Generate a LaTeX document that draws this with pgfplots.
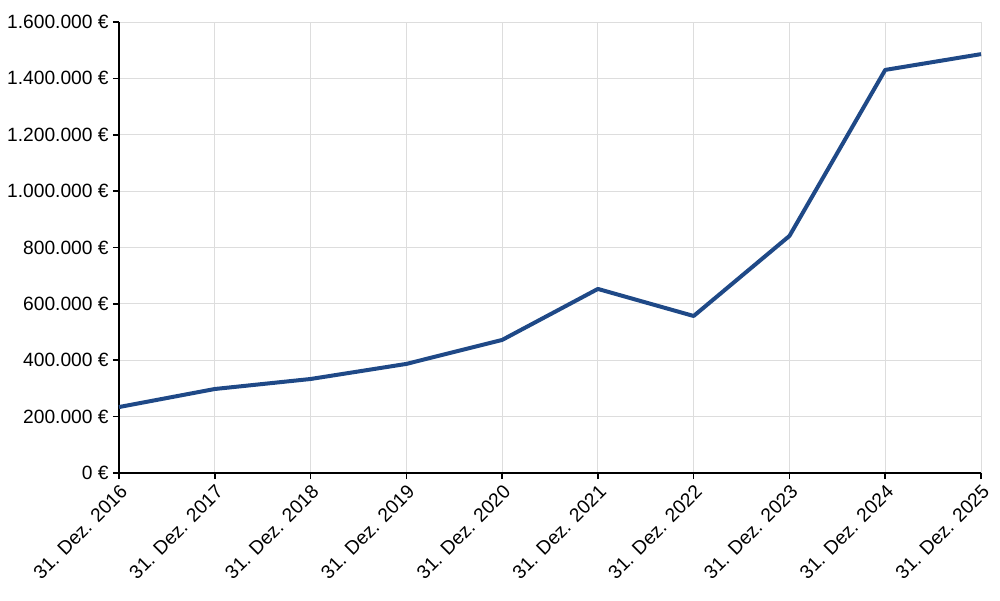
\documentclass[border=0pt]{standalone}
\usepackage{pgfplots}
\pgfplotsset{compat=1.18}
\usepackage{fontspec}
\setmainfont{Liberation Sans}
\definecolor{lineblue}{RGB}{31,73,135}
\definecolor{gridgray}{RGB}{221,221,221}
\begin{document}
\begin{tikzpicture}
\begin{axis}[
  scale only axis,
  width=431pt, height=225.5pt,
  xmin=0, xmax=9, ymin=0, ymax=1600000,
  scaled ticks=false,
  axis x line*=bottom, axis y line*=left,
  axis line style={line width=0.8pt, black, -},
  xtick={0,...,9},
  xticklabels={31. Dez. 2016,31. Dez. 2017,31. Dez. 2018,31. Dez. 2019,31. Dez. 2020,31. Dez. 2021,31. Dez. 2022,31. Dez. 2023,31. Dez. 2024,31. Dez. 2025},
  ytick={0,200000,400000,600000,800000,1000000,1200000,1400000,1600000},
  yticklabels={0 €,200.000 €,400.000 €,600.000 €,800.000 €,1.000.000 €,1.200.000 €,1.400.000 €,1.600.000 €},
  x tick label style={rotate=45, anchor=north east, font=\fontsize{9.6}{10}\selectfont, inner sep=1.5pt},
  y tick label style={font=\fontsize{9.6}{10}\selectfont, inner sep=2pt},
  tick align=outside,
  major tick length=3pt,
  tick style={line width=0.8pt, black},
  grid=major,
  major grid style={gridgray, line width=0.4pt},
  clip=false,
]
\addplot[color=lineblue, line width=2pt, line join=round] coordinates {
(0,234000) (1,298000) (2,333500) (3,387000) (4,472000) (5,653000) (6,557000) (7,841000) (8,1430000) (9,1486000)
};
\end{axis}
\pgfresetboundingbox
\path (-59.5pt,-63.5pt) rectangle (440.5pt,236.5pt);
\end{tikzpicture}
\end{document}
